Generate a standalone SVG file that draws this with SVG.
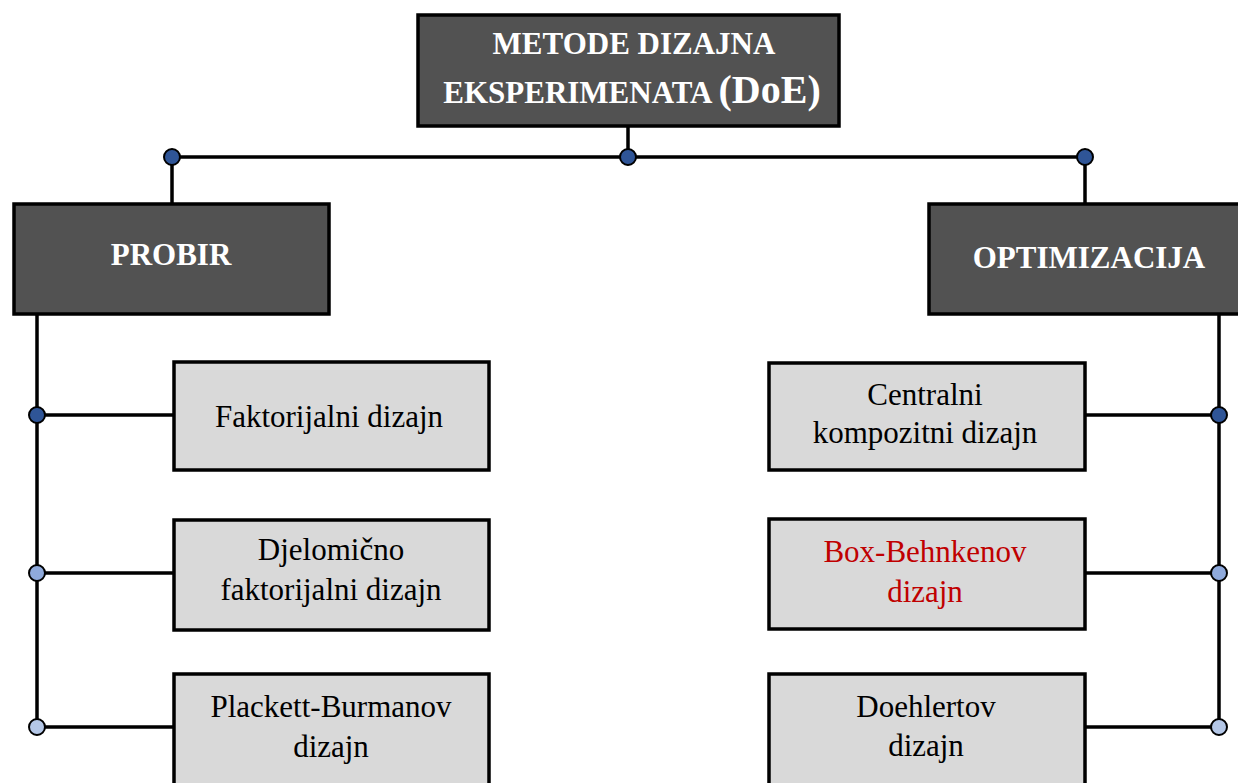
<svg xmlns="http://www.w3.org/2000/svg" width="1238" height="783" viewBox="0 0 1238 783">
<style>
.dark{fill:#525252;stroke:#000;stroke-width:3.5}
.light{fill:#D9D9D9;stroke:#000;stroke-width:3.5}
.hd{font-family:"Liberation Serif","Times New Roman",serif;font-weight:bold;fill:#fff;font-size:31px;text-anchor:middle}
.tx{font-family:"Liberation Serif","Times New Roman",serif;fill:#000;font-size:31px;text-anchor:middle}
.red{fill:#C00000}
.ln{stroke:#000;stroke-width:3.5;fill:none}
.d1{fill:#2F5597;stroke:#000;stroke-width:2}
.d2{fill:#8FAADC;stroke:#000;stroke-width:2}
.d3{fill:#B4C7E7;stroke:#000;stroke-width:2}
</style>
<rect width="1238" height="783" fill="#fff"/>
<g id="connectors">
<path class="ln" d="M628 126V157M172 157H1085M172 157V204M1085 157V204"/>
<path class="ln" d="M37 314V727M37 415H174M37 573H174M37 727H174"/>
<path class="ln" d="M1219 314V727M1085 415H1219M1085 573H1219M1085 727H1219"/>
<circle class="d1" cx="172" cy="157" r="8"/>
<circle class="d1" cx="628" cy="157" r="8"/>
<circle class="d1" cx="1085" cy="157" r="8"/>
<circle class="d1" cx="37" cy="415" r="8"/>
<circle class="d2" cx="37" cy="573" r="8"/>
<circle class="d3" cx="37" cy="727" r="8"/>
<circle class="d1" cx="1219" cy="415" r="8"/>
<circle class="d2" cx="1219" cy="573" r="8"/>
<circle class="d3" cx="1219" cy="727" r="8"/>
</g>
<g id="root">
<rect class="dark" x="418" y="15" width="421" height="111"/>
<text class="hd" x="634" y="54">METODE DIZAJNA</text>
<text class="hd" x="632" y="103">EKSPERIMENATA <tspan font-size="40px">(DoE)</tspan></text>
</g>
<g id="probir">
<rect class="dark" x="14" y="204" width="315" height="110"/>
<text class="hd" x="171" y="265">PROBIR</text>
</g>
<g id="optimizacija">
<rect class="dark" x="929" y="204" width="320" height="110"/>
<text class="hd" x="1089" y="268">OPTIMIZACIJA</text>
</g>
<g id="faktorijalni">
<rect class="light" x="174" y="362" width="315" height="108"/>
<text class="tx" x="329" y="427">Faktorijalni dizajn</text>
</g>
<g id="djelomicno">
<rect class="light" x="174" y="520" width="315" height="110"/>
<text class="tx" x="331" y="560">Djelomično</text>
<text class="tx" x="331" y="600">faktorijalni dizajn</text>
</g>
<g id="plackett">
<rect class="light" x="174" y="674" width="315" height="120"/>
<text class="tx" x="331" y="717">Plackett-Burmanov</text>
<text class="tx" x="331" y="757">dizajn</text>
</g>
<g id="centralni">
<rect class="light" x="769" y="363" width="316" height="107"/>
<text class="tx" x="925" y="405">Centralni</text>
<text class="tx" x="925" y="443">kompozitni dizajn</text>
</g>
<g id="boxbehnken">
<rect class="light" x="769" y="519" width="316" height="110"/>
<text class="tx red" x="925" y="562">Box-Behnkenov</text>
<text class="tx red" x="925" y="602">dizajn</text>
</g>
<g id="doehlert">
<rect class="light" x="769" y="674" width="316" height="120"/>
<text class="tx" x="926" y="717">Doehlertov</text>
<text class="tx" x="926" y="756">dizajn</text>
</g>
</svg>
